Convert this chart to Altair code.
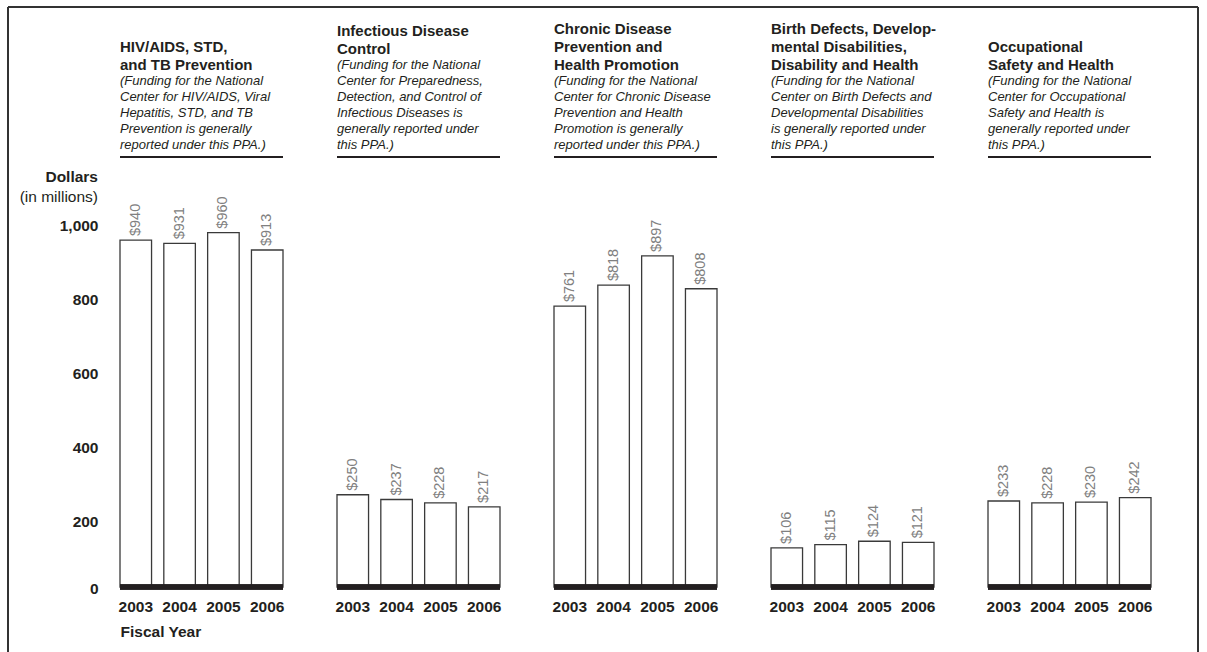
import altair as alt
import pandas as pd

FONT = "Liberation Sans"
INK = "#231f20"

years = ["2003", "2004", "2005", "2006"]

# Appropriations by program area, fiscal years 2003-2006 (dollars in millions)
hiv_values = [940, 931, 960, 913]
infectious_values = [250, 237, 228, 217]
chronic_values = [761, 818, 897, 808]
birth_values = [106, 115, 124, 121]
occupational_values = [233, 228, 230, 242]

hiv_head = ["HIV/AIDS, STD,", "and TB Prevention"]
hiv_note = ["(Funding for the National", "Center for HIV/AIDS, Viral",
            "Hepatitis, STD, and TB", "Prevention is generally",
            "reported under this PPA.)"]
infectious_head = ["Infectious Disease", "Control"]
infectious_note = ["(Funding for the National", "Center for Preparedness,",
                   "Detection, and Control of", "Infectious Diseases is",
                   "generally reported under", "this PPA.)"]
chronic_head = ["Chronic Disease", "Prevention and", "Health Promotion"]
chronic_note = ["(Funding for the National", "Center for Chronic Disease",
                "Prevention and Health", "Promotion is generally",
                "reported under this PPA.)"]
birth_head = ["Birth Defects, Develop-", "mental Disabilities,",
              "Disability and Health"]
birth_note = ["(Funding for the National", "Center on Birth Defects and",
              "Developmental Disabilities", "is generally reported under",
              "this PPA.)"]
occupational_head = ["Occupational", "Safety and Health"]
occupational_note = ["(Funding for the National", "Center for Occupational",
                     "Safety and Health is", "generally reported under",
                     "this PPA.)"]

panels_spec = [
    (hiv_values, hiv_head, hiv_note),
    (infectious_values, infectious_head, infectious_note),
    (chronic_values, chronic_head, chronic_note),
    (birth_values, birth_head, birth_note),
    (occupational_values, occupational_head, occupational_note),
]

y_ticks = [0, 200, 400, 600, 800, 1000]
axis_title_lines = ["Dollars", "(in millions)"]

W, H = 163, 430
Y_MAX = 1165
NOTE_LH, HEAD_LH = 16, 18


def heading(head, note):
    """Bold heading over an italic note; the block ends just above the top rule."""
    # centre of the note's first line, measured from the panel's top edge
    note_first = -12 - (len(note) - 1) * NOTE_LH
    head_first = note_first - 17 - (len(head) - 1) * HEAD_LH
    note_mark = alt.Chart(pd.DataFrame({"t": ["\n".join(note)]})).mark_text(
        align="left", baseline="bottom", lineBreak="\n", lineHeight=NOTE_LH,
        font=FONT, fontSize=13, fontStyle="italic", color=INK,
    ).encode(text="t:N", x=alt.value(0), y=alt.value(note_first + 7.4))
    head_mark = alt.Chart(pd.DataFrame({"t": ["\n".join(head)]})).mark_text(
        align="left", baseline="bottom", lineBreak="\n", lineHeight=HEAD_LH,
        font=FONT, fontSize=15, fontWeight="bold", color=INK,
    ).encode(text="t:N", x=alt.value(0), y=alt.value(head_first + 8.6))
    return [head_mark, note_mark]


def make_panel(idx, values, head, note):
    first = idx == 0
    df = pd.DataFrame({"year": years, "value": values})
    base = alt.Chart(df)

    x_axis = alt.Axis(
        title="Fiscal Year" if first else None,
        labelAngle=0, domain=False, ticks=False, grid=False,
        labelFont=FONT, labelFontSize=15.5, labelFontWeight="bold",
        labelColor=INK, labelPadding=12,
        titleFont=FONT, titleFontSize=15.5, titleFontWeight="bold",
        titleColor=INK, titleAnchor="start", titlePadding=10,
    )
    x_enc = alt.X("year:N", sort=years,
                  scale=alt.Scale(paddingInner=0.28, paddingOuter=0),
                  axis=x_axis)
    if first:
        y_axis = alt.Axis(
            values=y_ticks, format=",d", title=None, domain=False,
            ticks=False, grid=False, labelFont=FONT, labelFontSize=15.5,
            labelFontWeight="bold", labelColor=INK, labelPadding=22,
            labelOffset={"condition": {"test": "datum.value === 0", "value": 1},
                         "value": 8},
        )
    else:
        y_axis = None
    y_enc = alt.Y("value:Q", scale=alt.Scale(domain=[0, Y_MAX], nice=False),
                  axis=y_axis)

    bars = base.mark_bar(fill="white", stroke="#3a3a3a",
                         strokeWidth=1.3).encode(x=x_enc, y=y_enc)
    labels = base.mark_text(
        angle=270, align="left", baseline="middle", dx=4,
        font=FONT, fontSize=14.5, color="#808080",
    ).encode(x=x_enc, y=y_enc, text=alt.Text("value:Q", format="$d"))
    baseline = base.mark_rule(color=INK, strokeWidth=5).encode(y=alt.datum(0))
    head_rule = base.mark_rule(color=INK, strokeWidth=2).encode(y=alt.value(0))

    layers = [bars, labels, baseline, head_rule] + heading(head, note)

    if first:
        t1 = alt.Chart(pd.DataFrame({"t": [axis_title_lines[0]]})).mark_text(
            align="right", baseline="middle", font=FONT, fontSize=15.5,
            fontWeight="bold", color=INK,
        ).encode(text="t:N", x=alt.value(-22), y=alt.value(20))
        t2 = alt.Chart(pd.DataFrame({"t": [axis_title_lines[1]]})).mark_text(
            align="right", baseline="middle", font=FONT, fontSize=15.5,
            color=INK,
        ).encode(text="t:N", x=alt.value(-22), y=alt.value(40))
        # outer frame: left, top and right edges
        frame_style = dict(color="#333333", strokeWidth=1.5)
        left = base.mark_rule(**frame_style).encode(
            x=alt.value(-112), y=alt.value(-150), y2=alt.value(520))
        top = base.mark_rule(**frame_style).encode(
            x=alt.value(-112), x2=alt.value(1078), y=alt.value(-150))
        right = base.mark_rule(**frame_style).encode(
            x=alt.value(1078), y=alt.value(-150), y2=alt.value(520))
        layers += [t1, t2, left, top, right]

    return alt.layer(*layers).properties(width=W, height=H)


panels = [make_panel(i, *spec) for i, spec in enumerate(panels_spec)]

chart = alt.hconcat(*panels, spacing=54, bounds="flush").properties(
    padding={"left": 7, "top": 6, "right": 5, "bottom": 5},
    background="white",
).configure_view(stroke=None)

chart.save("out.html", embed_options={"renderer": "svg", "actions": False})
